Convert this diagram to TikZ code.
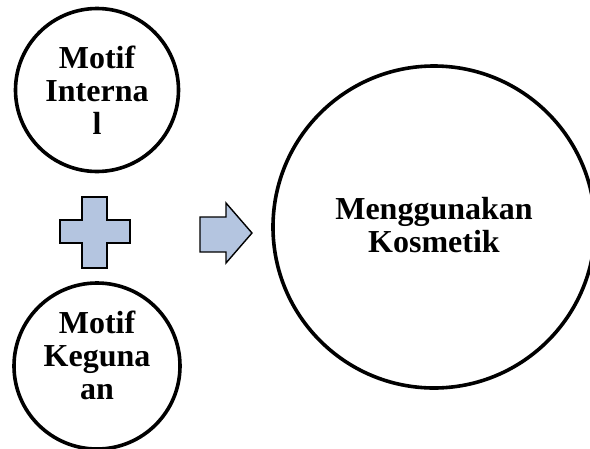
\documentclass[tikz,border=0pt]{standalone}
\usepackage{fontspec}
\setmainfont{Liberation Serif}
\definecolor{shapefill}{RGB}{180,197,224}
\tikzset{
  ring/.style={circle,draw=black,line width=3.6pt,inner sep=0pt},
  lbl/.style={font=\fontsize{32}{33}\selectfont\bfseries,align=center,inner sep=0pt},
  shapeline/.style={draw=black,line width=1.4pt,fill=shapefill,line join=miter}
}
\begin{document}
\begin{tikzpicture}[x=1pt,y=-1pt]
\useasboundingbox (0,0) rectangle (590,448);
% circles
\node[ring,minimum size=163pt] (c1) at (97,90) {};
\node[ring,minimum size=166pt] (c2) at (97,366) {};
\node[ring,minimum size=322pt] (c3) at (434,227) {};
% labels
\node[lbl] (t1) at (97,90) {Motif\\Interna\\l};
\node[lbl] (t2) at (97,355) {Motif\\Keguna\\an};
\node[lbl] (t3) at (434,225) {Menggunakan\\Kosmetik};
% plus
\draw[shapeline] (82,197) -- (107,197) -- (107,220) -- (130,220) -- (130,243) -- (107,243) -- (107,268) -- (82,268) -- (82,243) -- (60,243) -- (60,220) -- (82,220) -- cycle;
% arrow
\draw[shapeline] (200,217) -- (226,217) -- (226,203) -- (252,233) -- (226,263) -- (226,252) -- (200,252) -- cycle;
\end{tikzpicture}
\end{document}
